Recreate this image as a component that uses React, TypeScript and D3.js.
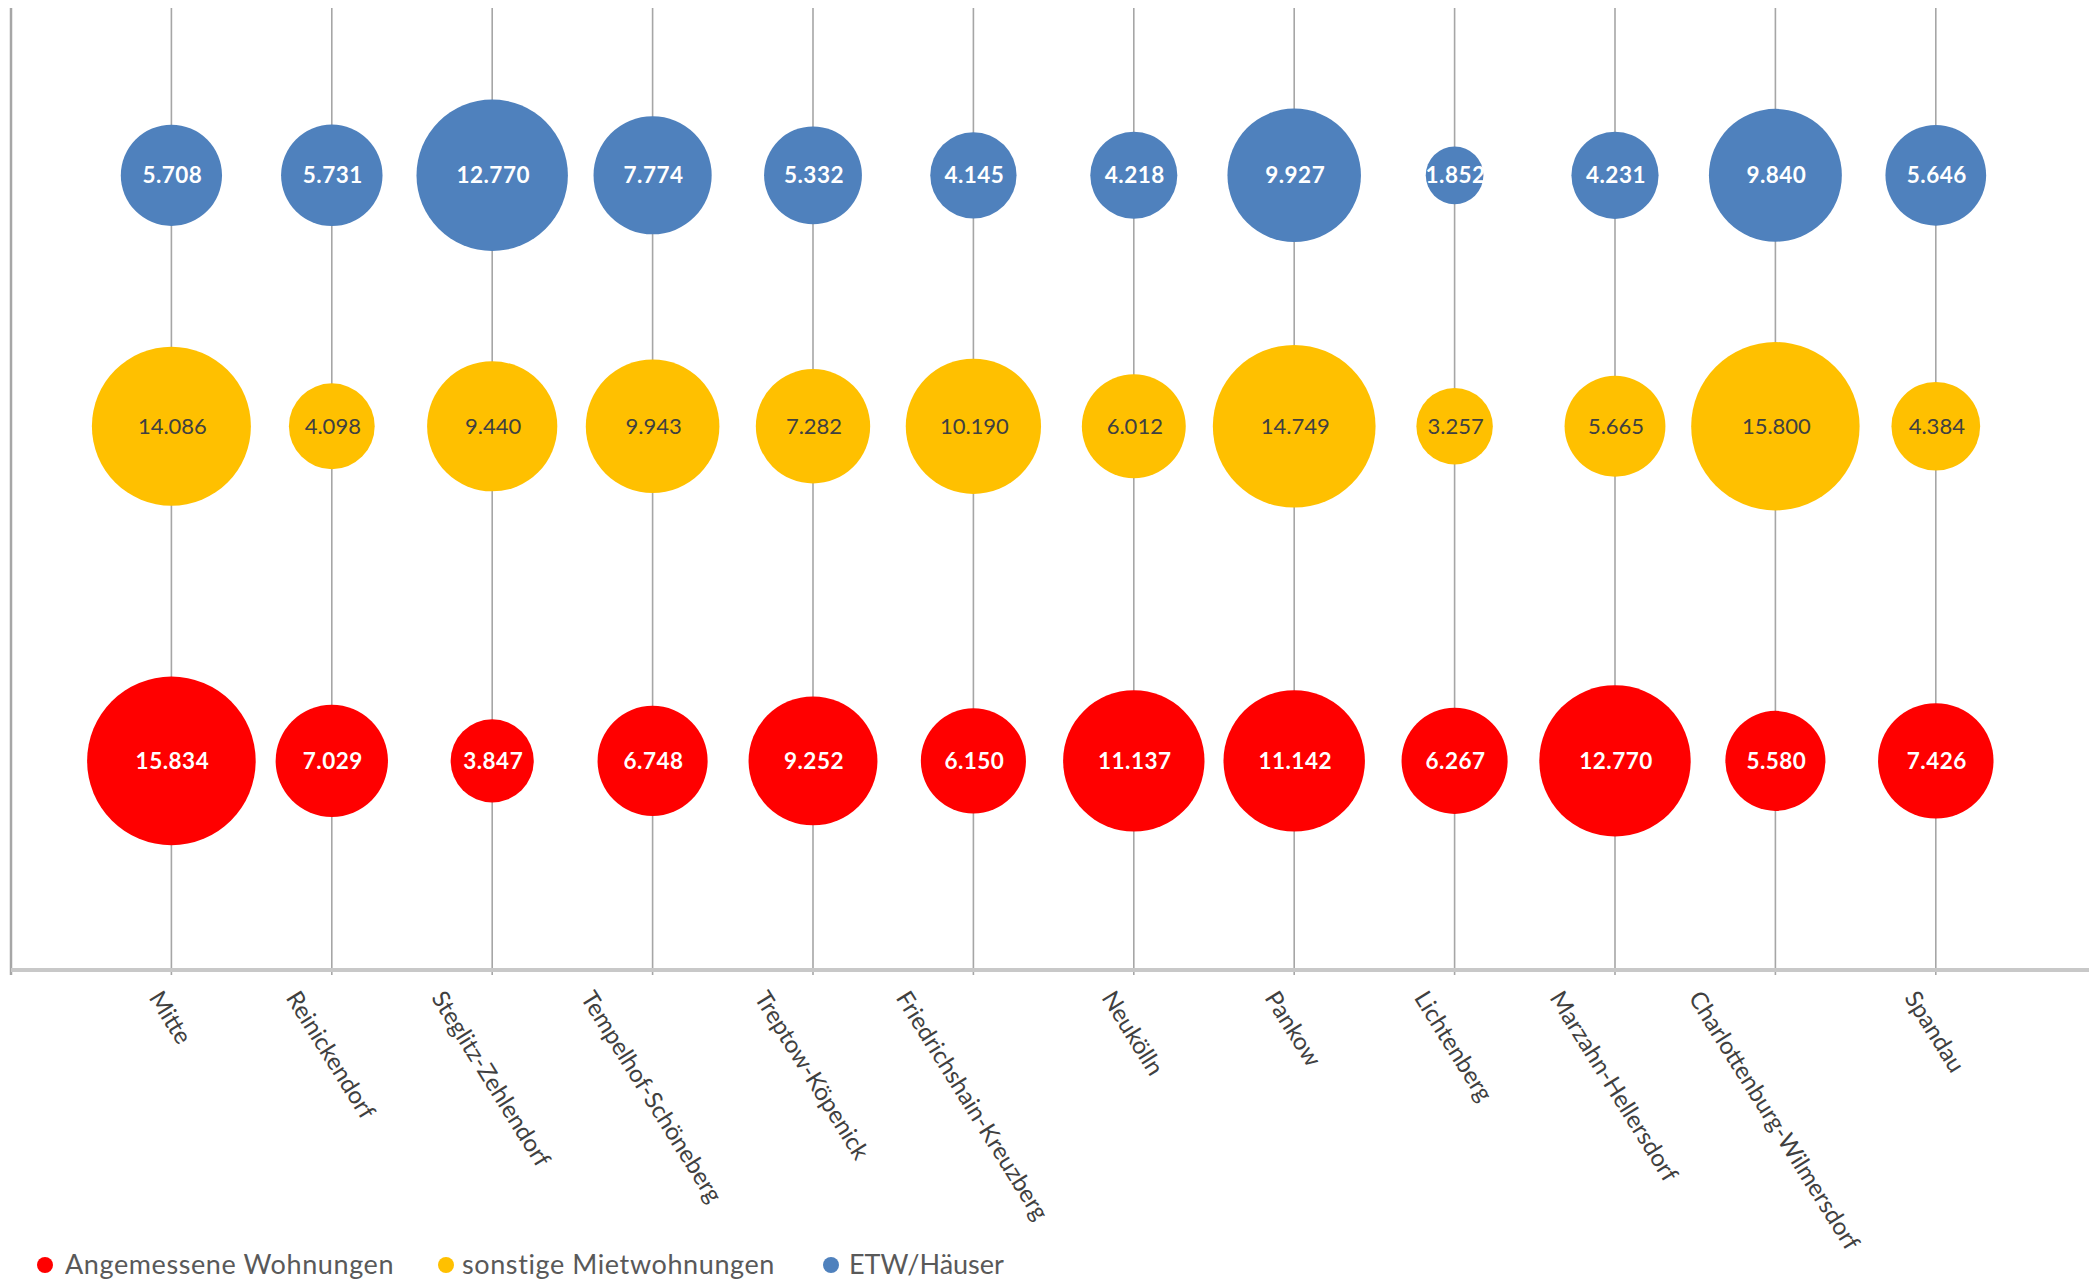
import React, { useEffect, useRef } from 'react';
import * as d3 from 'd3';

// Berliner Bezirke und Wohnungsangebote je Kategorie
const districts = [
  'Mitte',
  'Reinickendorf',
  'Steglitz-Zehlendorf',
  'Tempelhof-Schöneberg',
  'Treptow-Köpenick',
  'Friedrichshain-Kreuzberg',
  'Neukölln',
  'Pankow',
  'Lichtenberg',
  'Marzahn-Hellersdorf',
  'Charlottenburg-Wilmersdorf',
  'Spandau',
];

const angemessene = [15834, 7029, 3847, 6748, 9252, 6150, 11137, 11142, 6267, 12770, 5580, 7426];
const sonstige = [14086, 4098, 9440, 9943, 7282, 10190, 6012, 14749, 3257, 5665, 15800, 4384];
const etw = [5708, 5731, 12770, 7774, 5332, 4145, 4218, 9927, 1852, 4231, 9840, 5646];

const seriesNames = ['Angemessene Wohnungen', 'sonstige Mietwohnungen', 'ETW/Häuser'];
const seriesRows = [1, 2.6, 3.8];
const seriesColors = ['#ff0000', '#ffc000', '#4f81bd'];
const seriesLabelColors = ['#ffffff', '#404040', '#ffffff'];
const seriesLabelWeights = ['bold', 'normal', 'bold'];

const W = 2089;
const H = 1281;

export default function App() {
  const ref = useRef<SVGSVGElement | null>(null);

  useEffect(() => {
    const svg = d3.select(ref.current);
    svg.selectAll('*').remove();

    const x = d3.scaleLinear().domain([0, 13]).range([11, 11 + 13 * 160.4]);
    const y = d3.scaleLinear().domain([0, 4.6]).range([970, 8]);
    const allValues = [...angemessene, ...sonstige, ...etw];
    const r = d3.scaleSqrt().domain([0, d3.max(allValues) as number]).range([0, 84.3]);
    const fmt = d3.formatLocale({ decimal: ',', thousands: '.', grouping: [3], currency: ['', '€'] }).format(',d');

    const font = 'Lato, "Open Sans", sans-serif';

    // vertical gridlines at each district
    svg.append('g')
      .selectAll('line')
      .data(districts)
      .join('line')
      .attr('x1', (_, i) => x(i + 1))
      .attr('x2', (_, i) => x(i + 1))
      .attr('y1', y(4.6))
      .attr('y2', y(0) + 5)
      .attr('stroke', '#a6a6a6')
      .attr('stroke-width', 1.6);

    // left axis
    svg.append('line')
      .attr('x1', x(0)).attr('x2', x(0))
      .attr('y1', y(4.6)).attr('y2', y(0) + 5)
      .attr('stroke', '#a6a6a6')
      .attr('stroke-width', 2.5);

    // baseline
    svg.append('line')
      .attr('x1', x(0)).attr('x2', W)
      .attr('y1', y(0)).attr('y2', y(0))
      .attr('stroke', '#c8c8c8')
      .attr('stroke-width', 4);

    const series = [angemessene, sonstige, etw];
    series.forEach((vals, s) => {
      const g = svg.append('g');
      g.selectAll('circle')
        .data(vals)
        .join('circle')
        .attr('cx', (_, i) => x(i + 1))
        .attr('cy', y(seriesRows[s]))
        .attr('r', (v) => r(v))
        .attr('fill', seriesColors[s]);
      g.selectAll('text')
        .data(vals)
        .join('text')
        .attr('x', (_, i) => x(i + 1) + 1)
        .attr('y', y(seriesRows[s]))
        .attr('dy', '0.36em')
        .attr('text-anchor', 'middle')
        .attr('font-family', font)
        .attr('font-size', seriesLabelWeights[s] === 'bold' ? 22.5 : 22)
        .attr('font-weight', seriesLabelWeights[s])
        .attr('letter-spacing', seriesLabelWeights[s] === 'bold' ? 0.5 : 0)
        .attr('fill', seriesLabelColors[s])
        .text((v) => fmt(v));
    });

    // rotated district labels, centred under their tick
    const angle = 58;
    const rad = (angle * Math.PI) / 180;
    const labelTop = 987;
    const lg = svg.append('g');
    districts.forEach((name, i) => {
      const t = lg.append('text')
        .attr('font-family', font)
        .attr('font-size', 24)
        .attr('fill', '#404040')
        .attr('text-anchor', 'middle')
        .attr('dominant-baseline', 'central')
        .text(name);
      const len = (t.node() as SVGTextElement).getComputedTextLength();
      const h = 22;
      const cy = labelTop + (len * Math.sin(rad) + h * Math.cos(rad)) / 2;
      const cx = x(i + 1);
      t.attr('transform', `translate(${cx},${cy}) rotate(${angle})`);
    });

    // legend
    const legendDots = [45, 446, 831];
    const legendText = [65, 462, 849];
    const legendSpacing = [0.6, 0.6, 0];
    const legendY = 1265;
    const leg = svg.append('g');
    seriesNames.forEach((name, s) => {
      leg.append('circle')
        .attr('cx', legendDots[s])
        .attr('cy', legendY)
        .attr('r', 8)
        .attr('fill', seriesColors[s]);
      leg.append('text')
        .attr('x', legendText[s])
        .attr('y', legendY)
        .attr('dy', '0.34em')
        .attr('font-family', font)
        .attr('font-size', 27)
        .attr('letter-spacing', legendSpacing[s])
        .attr('fill', '#595959')
        .text(name);
    });
  }, []);

  return (
    <svg
      ref={ref}
      width={W}
      height={H}
      style={{ position: 'absolute', left: 0, top: 0, background: '#ffffff' }}
    />
  );
}
